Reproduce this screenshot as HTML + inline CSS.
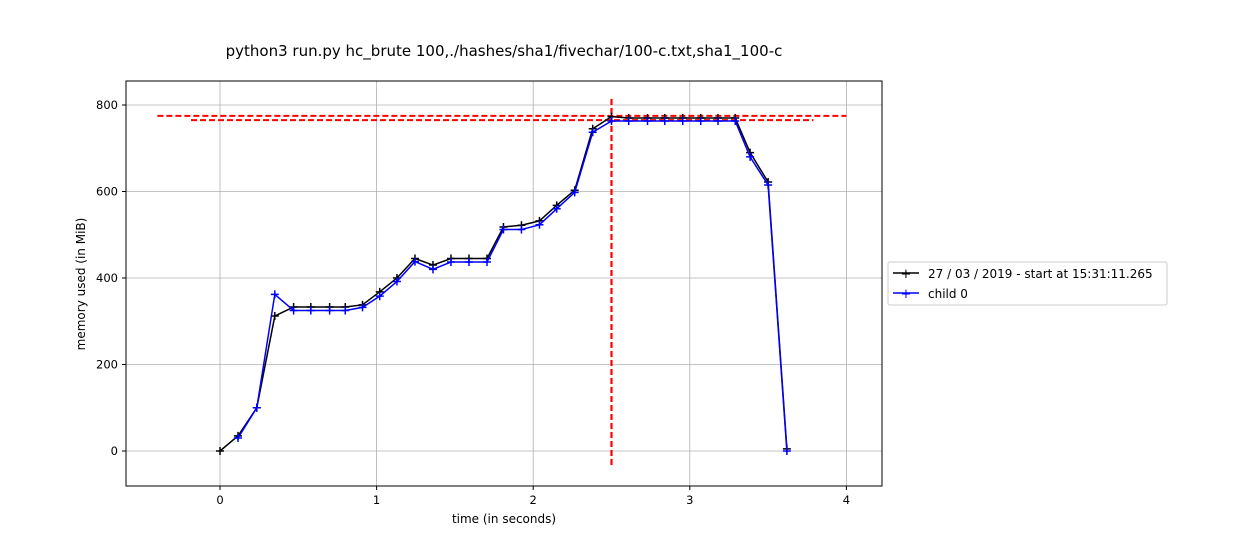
<!DOCTYPE html>
<html><head><meta charset="utf-8"><style>
body{margin:0;background:#fff;width:1260px;height:540px;overflow:hidden}
svg{font-family:"DejaVu Sans","Liberation Sans",sans-serif}
</style></head><body>
<svg id="chart" width="1260" height="540" xmlns="http://www.w3.org/2000/svg">
<rect width="1260" height="540" fill="#fff"/>
<text x="504" y="56" font-size="15" text-anchor="middle">python3 run.py hc_brute 100,./hashes/sha1/fivechar/100-c.txt,sha1_100-c</text>
<g id="grid"></g><g id="ticks"></g><g id="marks"></g>
<rect x="126" y="81" width="756" height="405" fill="none" stroke="#000" stroke-width="1"/>
<text x="504" y="523" font-size="12" text-anchor="middle">time (in seconds)</text>
<text transform="translate(85,284) rotate(-90)" font-size="12" text-anchor="middle">memory used (in MiB)</text>
<g>
<rect x="888" y="262" width="279" height="43" fill="#fff" stroke="#ccc" rx="2"/>
<line x1="893" y1="273" x2="919" y2="273" stroke="#000" stroke-width="1.5"/><text x="906" y="278" font-size="13" text-anchor="middle">+</text>
<text x="928" y="278" font-size="12">27 / 03 / 2019 - start at 15:31:11.265</text>
<line x1="893" y1="293" x2="919" y2="293" stroke="#00f" stroke-width="1.5"/><text x="906" y="298" font-size="13" fill="#00f" text-anchor="middle">+</text>
<text x="928" y="298" font-size="12">child 0</text>
</g>
</svg>
<script>
const xTicks=[0,1,2,3,4];
const yTicks=[0,200,400,600,800];
const mainT=[0,0.115,0.235,0.35,0.47,0.58,0.7,0.8,0.91,1.02,1.13,1.245,1.36,1.475,1.59,1.705,1.81,1.925,2.04,2.15,2.265,2.38,2.5,2.61,2.73,2.84,2.955,3.07,3.18,3.29,3.385,3.5,3.62];
const mainMem=[0,35,100,312,333,333,333,333,338,368,400,445,430,445,445,445,518,522,532,568,603,745,773,770,770,770,770,770,770,770,690,622,5];
const childT=[0.115,0.235,0.35,0.47,0.58,0.7,0.8,0.91,1.02,1.13,1.245,1.36,1.475,1.59,1.705,1.81,1.925,2.04,2.15,2.265,2.38,2.5,2.61,2.73,2.84,2.955,3.07,3.18,3.29,3.385,3.5,3.62];
const childMem=[30,100,362,325,325,325,325,332,358,392,438,420,437,437,437,512,512,523,560,598,737,763,763,763,763,763,763,763,763,680,615,0];
const hLines=[[775,-0.4,4.0],[765,-0.185,3.79]];
const vLineT=2.5;
const X=v=>220+v*156.6, Y=v=>451-v*0.4325;
const NS="http://www.w3.org/2000/svg";
function mk(p,t,a){const e=document.createElementNS(NS,t);for(const k in a)e.setAttribute(k,a[k]);document.getElementById(p).appendChild(e);return e;}
xTicks.forEach(t=>{
 const g=mk('grid','line',{x1:X(t),x2:X(t),y1:81,y2:486,stroke:'#b0b0b0','stroke-width':0.8});
 
 
 mk('ticks','line',{x1:X(t),x2:X(t),y1:486,y2:490,stroke:'#000'});
 const l=mk('ticks','text',{x:X(t),y:504,'font-size':11.5,'text-anchor':'middle'});l.textContent=t;
 
 
});
yTicks.forEach(t=>{
 const g=mk('grid','line',{x1:126,x2:882,y1:Y(t),y2:Y(t),stroke:'#b0b0b0','stroke-width':0.8});
 
 
 mk('ticks','line',{x1:122,x2:126,y1:Y(t),y2:Y(t),stroke:'#000'});
 const l=mk('ticks','text',{x:118,y:Y(t)+4,'font-size':11.5,'text-anchor':'end'});l.textContent=t;
 
 
});
hLines.forEach(h=>{
 const e=mk('marks','line',{x1:X(h[1]),x2:X(h[2]),y1:Y(h[0]),y2:Y(h[0]),stroke:'#f00','stroke-width':2,'stroke-dasharray':'6,3'});
 
 
});
const v=mk('marks','line',{x1:X(vLineT),x2:X(vLineT),y1:99,y2:467,stroke:'#f00','stroke-width':2.2,'stroke-dasharray':'6,3'});


function series(T,M,c,name){
 const p=mk('marks','polyline',{points:T.map((t,i)=>X(t)+','+Y(M[i])).join(' '),fill:'none',stroke:c,'stroke-width':1.5});
 
 
 T.forEach((t,i)=>{const x=X(t),y=Y(M[i]);
  const m=mk('marks','path',{d:`M${x-4},${y}H${x+4}M${x},${y-4}V${y+4}`,stroke:c,'stroke-width':1.5});
  
  
 });
}
series(mainT,mainMem,'#000','main');
series(childT,childMem,'#00f','child');
</script>
</body></html>
